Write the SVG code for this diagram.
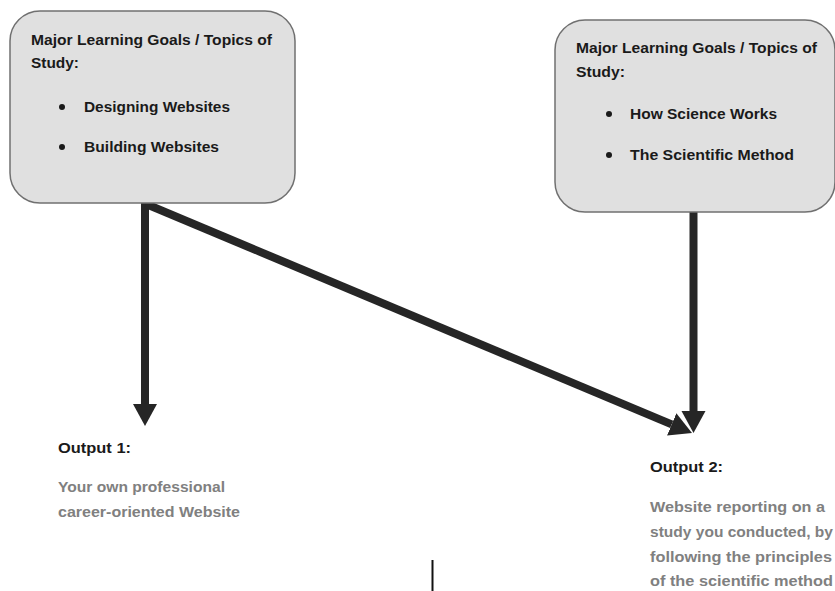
<svg xmlns="http://www.w3.org/2000/svg" width="835" height="591" viewBox="0 0 835 591">
  <style>
    .box { fill: #e0e0e0; stroke: #707070; stroke-width: 1.5; }
    .t { font-family: "Liberation Sans", Arial, sans-serif; font-weight: bold; font-size: 15.5px; fill: #1a1a1a; }
    .g { fill: #808080; }
    .conn { stroke: #262626; stroke-width: 8; fill: none; stroke-linecap: butt; }
    .dot { fill: #1a1a1a; }
  </style>
  <defs>
    <marker id="head" markerUnits="userSpaceOnUse" markerWidth="24" markerHeight="26" refX="0" refY="12" orient="auto" viewBox="0 0 24 24">
      <path d="M0,0 L22,12 L0,24 Z" fill="#262626"/>
    </marker>
  </defs>

  <!-- connectors -->
  <g id="connectors">
    <line class="conn" x1="145" y1="203" x2="145" y2="404" marker-end="url(#head)"/>
    <line class="conn" x1="146" y1="204" x2="671.7" y2="424.4" marker-end="url(#head)"/>
    <line class="conn" x1="693.5" y1="212" x2="693.5" y2="411" marker-end="url(#head)"/>
  </g>

  <!-- goals: web design -->
  <g id="goals-web">
    <rect class="box" x="10" y="11" width="285" height="192" rx="30" ry="30"/>
    <text class="t" x="31" y="45" textLength="241" lengthAdjust="spacingAndGlyphs">Major Learning Goals / Topics of</text>
    <text class="t" x="31" y="68" textLength="48" lengthAdjust="spacingAndGlyphs">Study:</text>
    <circle class="dot" cx="62" cy="107" r="3"/>
    <text class="t" x="84" y="112" textLength="146" lengthAdjust="spacingAndGlyphs">Designing Websites</text>
    <circle class="dot" cx="62" cy="147" r="3"/>
    <text class="t" x="84" y="152" textLength="135" lengthAdjust="spacingAndGlyphs">Building Websites</text>
  </g>

  <!-- goals: science -->
  <g id="goals-science">
    <rect class="box" x="555" y="20" width="280" height="192" rx="30" ry="30"/>
    <text class="t" x="576" y="53" textLength="241" lengthAdjust="spacingAndGlyphs">Major Learning Goals / Topics of</text>
    <text class="t" x="576" y="77" textLength="49" lengthAdjust="spacingAndGlyphs">Study:</text>
    <circle class="dot" cx="609" cy="114" r="3"/>
    <text class="t" x="630" y="119" textLength="147" lengthAdjust="spacingAndGlyphs">How Science Works</text>
    <circle class="dot" cx="609" cy="155" r="3"/>
    <text class="t" x="630" y="160" textLength="164" lengthAdjust="spacingAndGlyphs">The Scientific Method</text>
  </g>

  <!-- output 1 -->
  <g id="output-1">
    <text class="t" x="58" y="453" textLength="73" lengthAdjust="spacingAndGlyphs">Output 1:</text>
    <text class="t g" x="58" y="492" textLength="167" lengthAdjust="spacingAndGlyphs">Your own professional</text>
    <text class="t g" x="58" y="517" textLength="182" lengthAdjust="spacingAndGlyphs">career-oriented Website</text>
  </g>

  <!-- output 2 -->
  <g id="output-2">
    <text class="t" x="650" y="472" textLength="73" lengthAdjust="spacingAndGlyphs">Output 2:</text>
    <text class="t g" x="650" y="512" textLength="175" lengthAdjust="spacingAndGlyphs">Website reporting on a</text>
    <text class="t g" x="650" y="537" textLength="183" lengthAdjust="spacingAndGlyphs">study you conducted, by</text>
    <text class="t g" x="650" y="562" textLength="182" lengthAdjust="spacingAndGlyphs">following the principles</text>
    <text class="t g" x="650" y="586" textLength="183" lengthAdjust="spacingAndGlyphs">of the scientific method</text>
  </g>

  <!-- caret -->
  <line x1="432.5" y1="560" x2="432.5" y2="591" stroke="#111" stroke-width="2"/>
</svg>
